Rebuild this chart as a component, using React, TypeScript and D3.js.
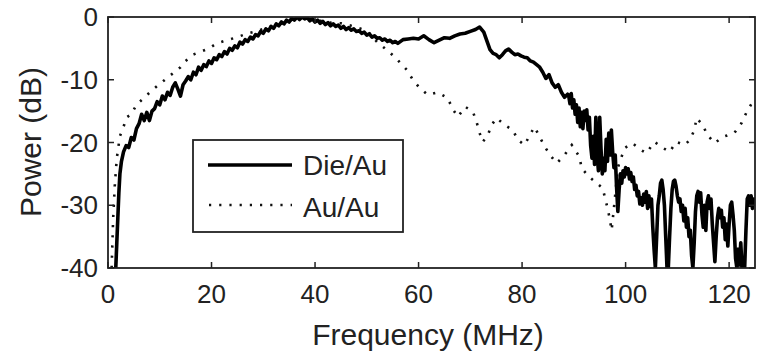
import React from "react";
import * as d3 from "d3";

// Die/Au series: [frequency MHz, power dB]
const dieAu: [number, number][] = [
  [1.5,-40],[1.7,-36],[1.9,-32],[2.1,-28],[2.3,-25],[2.6,-23],
  [3.0,-21.5],[3.5,-20.5],[4.0,-20.8],[4.5,-19.2],[5.0,-19.6],[5.5,-17.8],[6.0,-17.0],[6.5,-15.5],[7.0,-16.5],[7.5,-15.2],
  [8.0,-16.5],[8.5,-15.0],[9.0,-14.6],[9.5,-13.5],[10.0,-14.0],[10.5,-12.6],[11.0,-13.2],[11.5,-12.0],[12.0,-12.5],[12.5,-11.2],
  [13.0,-10.5],[13.5,-11.5],[14.0,-12.6],[14.5,-10.8],[15.0,-10.2],[15.5,-9.5],[16.0,-10.0],[16.5,-8.8],[17.0,-9.2],[17.5,-8.0],
  [18.0,-8.5],[18.5,-7.6],[19.0,-7.9],[19.5,-7.0],[20.0,-7.4],[20.5,-6.5],[21.0,-6.8],[21.5,-6.0],[22.0,-6.3],[22.5,-5.5],
  [23.0,-5.9],[23.5,-5.0],[24.0,-5.3],[24.5,-4.6],[25.0,-4.9],[25.5,-4.0],[26.0,-4.3],[26.5,-3.6],[27.0,-3.9],[27.5,-3.2],
  [28.0,-3.5],[28.5,-2.8],[29.0,-3.0],[29.5,-2.3],[30.0,-2.6],[30.5,-1.9],[31.0,-2.2],[31.5,-1.5],[32.0,-1.8],[32.5,-1.1],
  [33.0,-1.4],[33.5,-0.8],[34.0,-1.1],[34.5,-0.5],[35.0,-0.8],[35.5,-0.2],[36.0,-0.5],[36.5,0],[37,-0.4],[37.5,0],
  [38,-0.3],[38.5,-0.1],[39,-0.6],[39.5,-0.3],[40,-0.8],[40.5,-0.5],[41,-1.0],[41.5,-0.7],[42,-1.2],[42.5,-0.9],
  [43,-1.4],[43.5,-1.1],[44,-1.5],[44.5,-1.3],[45,-1.8],[45.5,-1.5],[46,-2.0],[46.5,-1.7],[47,-2.1],[47.5,-1.9],
  [48,-2.3],[48.5,-2.2],[49,-2.6],[49.5,-2.4],[50,-2.9],[50.5,-2.7],[51,-3.2],[51.5,-3.0],[52,-3.4],[52.5,-3.3],
  [53,-3.7],[53.5,-3.5],[54,-3.9],[54.5,-3.7],[55,-4.1],[55.5,-3.9],[56,-4.2],[57,-3.6],[58,-3.5],[59,-3.4],
  [60,-3.5],[61,-3.0],[62,-3.6],[63,-4.1],[64,-3.7],[65,-3.3],[66,-3.4],[67,-3.0],[68,-2.7],[69,-2.6],
  [70,-2.3],[71,-2.0],[71.8,-1.6],[72.6,-2.4],[73.2,-3.8],[73.8,-5.2],[74.4,-5.8],[75,-6.0],[75.6,-6.5],[76.2,-6.0],
  [76.8,-5.4],[77.4,-5.1],[78,-5.6],[78.6,-6.0],[79.2,-5.9],[79.8,-6.2],[80.4,-6.4],[81,-6.5],[81.6,-7.0],[82.2,-7.2],
  [82.8,-7.6],[83.4,-8.0],[84,-8.8],[84.6,-9.8],[85.2,-9.2],[85.8,-10.5],[86.4,-11.2],[87,-10.8],[87.6,-12],[88.2,-12.8],
  [88.8,-12.3],[89.0,-12.5],[89.25,-13.8],[89.5,-12.2],[89.75,-14.5],[90.0,-13.2],[90.25,-15.5],[90.5,-14.0],[90.75,-16.8],[91.0,-14.5],
  [91.25,-17.5],[91.5,-15.2],[91.75,-17.8],[92.0,-15.0],[92.25,-16.5],[92.5,-14.8],[92.75,-18.0],[93.0,-16.0],[93.25,-20.5],[93.5,-22.5],
  [93.75,-19.0],[94.0,-23.5],[94.25,-16.0],[94.5,-22.0],[94.75,-24.5],[95.0,-16.0],[95.25,-21.0],[95.5,-25.0],[95.75,-22.5],[96.0,-24.5],
  [96.25,-19.5],[96.5,-23.0],[96.75,-18.5],[97.0,-22.0],[97.25,-18.0],[97.5,-21.5],[97.75,-24.0],[98.0,-22.0],[98.25,-27.0],[98.5,-31.0],
  [98.75,-27.5],[99.0,-25.0],[99.25,-26.5],[99.5,-24.5],[99.75,-25.5],[100.0,-24.0],[100.25,-25.0],[100.5,-24.2],[100.75,-25.8],[101.0,-24.8],
  [101.25,-26.2],[101.5,-25.5],[101.75,-27.5],[102.0,-26.8],[102.25,-28.5],[102.5,-27.8],[102.75,-29.8],[103.0,-28.8],[103.25,-30.0],[103.5,-28.2],
  [103.75,-29.5],[104.0,-27.8],[104.25,-30.5],[104.5,-28.5],[104.75,-30.2],[105.0,-29.0],[105.25,-33.5],[105.5,-37.0],[105.75,-40.0],[106.0,-35.0],
  [106.25,-30.0],[106.5,-28.5],[106.75,-26.5],[107.0,-26.0],[107.25,-27.5],[107.5,-30.0],[107.75,-35.0],[108.0,-40.0],[108.25,-40.0],[108.5,-35.0],
  [108.75,-30.5],[109.0,-27.5],[109.25,-26.2],[109.5,-26.0],[109.75,-27.0],[110.0,-28.5],[110.25,-29.5],[110.5,-29.0],[110.75,-31.0],[111.0,-30.0],
  [111.25,-32.5],[111.5,-30.5],[111.75,-33.5],[112.0,-32.0],[112.25,-35.0],[112.5,-34.0],[112.75,-38.0],[113.0,-40.0],[113.25,-36.0],[113.5,-31.0],
  [113.75,-28.5],[114.0,-27.8],[114.25,-29.5],[114.5,-28.0],[114.75,-31.5],[115.0,-33.5],[115.25,-30.0],[115.5,-34.0],[115.75,-29.5],[116.0,-28.5],
  [116.25,-30.5],[116.5,-29.0],[116.75,-33.0],[117.0,-36.0],[117.25,-39.0],[117.5,-35.0],[117.75,-32.0],[118.0,-30.5],[118.25,-32.0],[118.5,-30.8],
  [118.75,-33.5],[119.0,-32.0],[119.25,-35.5],[119.5,-33.0],[119.75,-36.5],[120.0,-33.0],[120.25,-30.0],[120.5,-29.5],[120.75,-31.5],[121.0,-34.0],
  [121.25,-38.5],[121.5,-40.0],[121.75,-37.0],[122.0,-39.5],[122.25,-36.0],[122.5,-40.0],[122.75,-38.5],[123.0,-40.0],[123.25,-34.0],[123.5,-29.0],
  [123.75,-28.5],[124.0,-30.0],[124.25,-28.5],[124.5,-30.5],[124.75,-29.0],[125,-29.5]
];

// Au/Au series: [frequency MHz, power dB]
const auAu: [number, number][] = [
  [0.7,-40],[1.0,-32],[1.3,-27],[1.7,-22.5],[2.3,-19],[3.0,-17.5],[3.6,-16],[4.5,-15.5],[5.5,-14],[6.8,-13],
  [8.1,-12],[9.5,-11],[11,-10],[12.5,-9],[14,-8],[15,-7],[16.4,-6],[18,-5.5],[19.5,-5],[21,-4.2],
  [23,-3.7],[25,-3.2],[27,-2.6],[29,-2.2],[31,-1.6],[33,-1.2],[35,-0.6],[37,-0.2],[39,-0.3],[41,-0.6],
  [43,-0.9],[45,-1.0],[47,-1.4],[49,-1.9],[50.5,-2.6],[52,-4],[54.4,-5.6],[56,-6.9],[57.7,-8.4],[58.9,-10],
  [60.2,-11.3],[61.8,-12.4],[63.7,-12],[65.6,-12.9],[66.7,-14.8],[67.6,-15.9],[69,-14.3],[70.5,-15.1],[71.2,-16.7],[71.8,-18.5],
  [72.4,-19.9],[73.4,-18.8],[74.1,-17.2],[75.1,-16.1],[76.6,-17.2],[78.2,-18],[79.2,-19.6],[80.5,-20.4],[81.5,-18.8],[82.4,-17.5],
  [83.4,-19.1],[84.4,-20.7],[85.7,-22.3],[86.7,-23.3],[88.2,-22],[89.6,-20.4],[91.1,-22.3],[91.5,-24.1],[93,-25.5],[95.6,-27.3],
  [96,-28.8],[96.5,-30.4],[96.9,-32],[97.3,-34],[97.8,-30],[98.5,-24],[99.8,-20.9],[101.3,-20.1],[103,-21.2],[104,-21.7],
  [105.6,-19.9],[106.9,-20.7],[108.5,-21.5],[109.8,-19.9],[111.4,-20.4],[112.4,-19.6],[113.3,-18],[113.7,-16.1],[114.9,-17.2],[115.8,-18.8],
  [117.2,-20.1],[118.8,-19.1],[121,-18.5],[122.4,-16.9],[123.3,-15.3],[124.2,-14],[125,-13]
];

const xTicks = [0, 20, 40, 60, 80, 100, 120];
const yTicks = [0, -10, -20, -30, -40];
const seriesNames = ["Die/Au", "Au/Au"];

const L = 108, R = 755, T = 17, B = 268;

export default function App() {
  const x = d3.scaleLinear().domain([0, 125]).range([L, R]);
  const y = d3.scaleLinear().domain([-40, 0]).range([B, T]);
  const line = d3.line<[number, number]>().x(d => x(d[0])).y(d => y(d[1]));
  const die = line(dieAu) || "";
  const au = line(auAu) || "";
  const font = "'Liberation Sans', Arial, sans-serif";
  const tc = "#222";
  return (
    <svg width={759} height={354} style={{ position: "absolute", left: 0, top: 0, background: "#fff" }}>
      <rect x={0} y={0} width={759} height={354} fill="#fff" />
      <defs>
        <clipPath id="plotclip">
          <rect x={L} y={T} width={R - L} height={B - T} />
        </clipPath>
      </defs>
      <g clipPath="url(#plotclip)">
        <path d={au} fill="none" stroke="#111" strokeWidth={2.6} strokeDasharray="2.2,8" />
        <path d={die} fill="none" stroke="#000" strokeWidth={3.6} strokeLinejoin="round" />
      </g>
      <rect x={L} y={T} width={R - L} height={B - T} fill="none" stroke="#222" strokeWidth={1.8} />
      {xTicks.map(t => (
        <g key={"x" + t}>
          <line x1={x(t)} x2={x(t)} y1={B} y2={B - 6} stroke="#222" strokeWidth={1.5} />
          <line x1={x(t)} x2={x(t)} y1={T} y2={T + 6} stroke="#222" strokeWidth={1.5} />
          <text x={x(t)} y={303} textAnchor="middle" fontFamily={font} fontSize={26} fill={tc}>{t}</text>
        </g>
      ))}
      {yTicks.map(t => (
        <g key={"y" + t}>
          <line x1={L} x2={L + 6} y1={y(t)} y2={y(t)} stroke="#222" strokeWidth={1.5} />
          <line x1={R} x2={R - 6} y1={y(t)} y2={y(t)} stroke="#222" strokeWidth={1.5} />
          <text x={98} y={y(t) + 9} textAnchor="end" fontFamily={font} fontSize={26} fill={tc}>{t}</text>
        </g>
      ))}
      <text x={428} y={345} textAnchor="middle" fontFamily={font} fontSize={30} fill={tc}>Frequency (MHz)</text>
      <text transform={`translate(41,142) rotate(-90)`} textAnchor="middle" fontFamily={font} fontSize={30} fill={tc}>Power (dB)</text>
      <g>
        <rect x={193} y={140} width={210} height={92} fill="#fff" stroke="#222" strokeWidth={1.8} />
        <line x1={208} x2={292} y1={165} y2={165} stroke="#000" strokeWidth={3.6} />
        <text x={303} y={175} fontFamily={font} fontSize={28} fill={tc}>{seriesNames[0]}</text>
        <line x1={209} x2={292} y1={205} y2={205} stroke="#111" strokeWidth={2.6} strokeDasharray="2.2,8" />
        <text x={303} y={217} fontFamily={font} fontSize={28} fill={tc}>{seriesNames[1]}</text>
      </g>
    </svg>
  );
}
